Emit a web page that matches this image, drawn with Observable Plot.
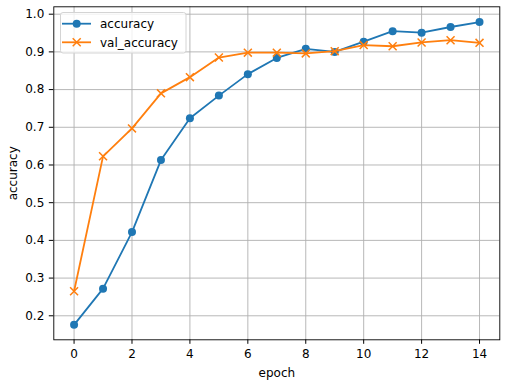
<!DOCTYPE html>
<html>
<head>
<meta charset="utf-8">
<script src="https://cdn.jsdelivr.net/npm/d3@7"></script>
<script src="https://cdn.jsdelivr.net/npm/@observablehq/plot@0.6"></script>
<style>
  html, body { margin: 0; padding: 0; background: #fff; }
  #wrap { position: relative; width: 508px; height: 380px; }
  #legend { position: absolute; left: 60px; top: 12px; }
</style>
</head>
<body>
<div id="wrap"></div>
<script>
const epochs = [0,1,2,3,4,5,6,7,8,9,10,11,12,13,14];
const accuracy = [0.176,0.272,0.422,0.613,0.724,0.784,0.841,0.884,0.908,0.900,0.927,0.955,0.951,0.966,0.979];
const valAccuracy = [0.265,0.623,0.697,0.790,0.833,0.885,0.898,0.898,0.896,0.902,0.918,0.915,0.925,0.931,0.924];
const seriesNames = ["accuracy", "val_accuracy"];
const seriesColors = ["#1f77b4", "#ff7f0e"];
const xTicks = [0,2,4,6,8,10,12,14];
const yTicks = [0.2,0.3,0.4,0.5,0.6,0.7,0.8,0.9,1.0];

const acc = epochs.map((e, i) => ({epoch: e, value: accuracy[i]}));
const val = epochs.map((e, i) => ({epoch: e, value: valAccuracy[i]}));

const chart = Plot.plot({
  width: 508,
  height: 380,
  marginLeft: 53.3,
  marginRight: 8.7,
  marginTop: 6.3,
  marginBottom: 40.7,
  style: {fontFamily: "DejaVu Sans, sans-serif", fontSize: "12px", color: "#000", background: "#fff"},
  x: {domain: [-0.7, 14.7], ticks: xTicks, tickFormat: d => String(d), label: "epoch", labelAnchor: "center", labelArrow: "none", labelOffset: 37, tickSize: 4.5, tickPadding: 5},
  y: {domain: [0.1363, 1.0196], ticks: yTicks, tickFormat: d => d.toFixed(1), label: "accuracy", labelAnchor: "center", labelArrow: "none", labelOffset: 45, tickSize: 4.5, tickPadding: 5},
  marks: [
    Plot.gridX(xTicks, {stroke: "#b0b0b0", strokeOpacity: 1, strokeWidth: 0.9}),
    Plot.gridY(yTicks, {stroke: "#b0b0b0", strokeOpacity: 1, strokeWidth: 0.9}),
    Plot.line(acc, {x: "epoch", y: "value", stroke: seriesColors[0], strokeWidth: 1.8}),
    Plot.dot(acc, {x: "epoch", y: "value", fill: seriesColors[0], r: 4, symbol: "circle"}),
    Plot.line(val, {x: "epoch", y: "value", stroke: seriesColors[1], strokeWidth: 1.8}),
    Plot.dot(val, {x: "epoch", y: "value", stroke: seriesColors[1], r: 3.7, symbol: "times", strokeWidth: 1.5}),
    Plot.frame({stroke: "#000", strokeWidth: 0.9})
  ]
});
const wrap = document.getElementById("wrap");
wrap.appendChild(chart);

// legend overlay (matplotlib-style, upper left)
const ns = "http://www.w3.org/2000/svg";
const lg = document.createElementNS(ns, "svg");
lg.setAttribute("id", "legend");
lg.setAttribute("width", 127);
lg.setAttribute("height", 42);
let inner = `<rect x="0.5" y="0.5" width="125.5" height="40.5" rx="2.5" fill="rgba(255,255,255,0.8)" stroke="#d4d4d4" stroke-width="1"/>`;
seriesNames.forEach((name, i) => {
  const cy = i === 0 ? 11.7 : 30.3;
  inner += `<line x1="2" x2="31" y1="${cy}" y2="${cy}" stroke="${seriesColors[i]}" stroke-width="1.8"/>`;
  if (i === 0) inner += `<circle cx="16.7" cy="${cy}" r="4" fill="${seriesColors[i]}"/>`;
  else inner += `<path d="M${16.7-4},${cy-4}L${16.7+4},${cy+4}M${16.7-4},${cy+4}L${16.7+4},${cy-4}" stroke="${seriesColors[i]}" stroke-width="1.5"/>`;
  inner += `<text x="40" y="${cy}" dy="0.36em" font-family="DejaVu Sans, sans-serif" font-size="12" fill="#000">${name}</text>`;
});
lg.innerHTML = inner;
wrap.appendChild(lg);
</script>
</body>
</html>
